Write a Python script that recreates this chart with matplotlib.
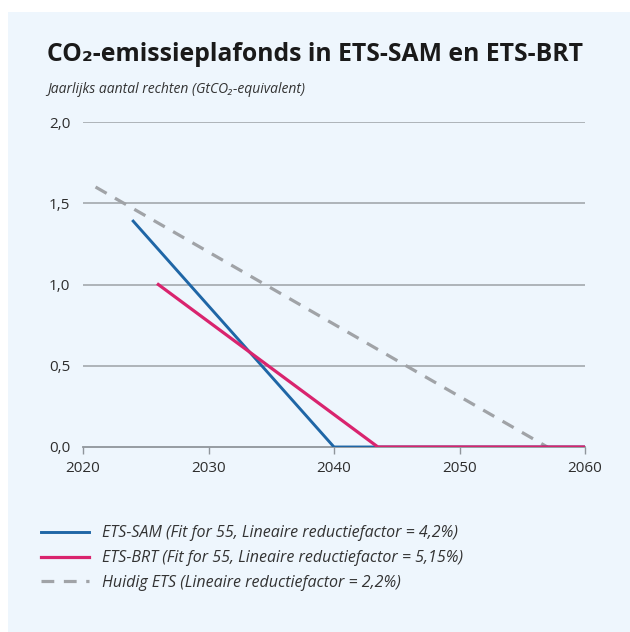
import matplotlib
matplotlib.use("Agg")
import matplotlib.pyplot as plt
from matplotlib.patches import Rectangle

# Data
sam_years = [2024, 2040, 2060]
sam_vals = [1.39, 0.0, 0.0]
brt_years = [2026, 2043.5, 2060]
brt_vals = [1.0, 0.0, 0.0]
huidig_years = [2021, 2057]
huidig_vals = [1.6, 0.0]

x_ticks = [2020, 2030, 2040, 2050, 2060]
y_ticks = [0.0, 0.5, 1.0, 1.5, 2.0]
y_ticklabels = ["0,0", "0,5", "1,0", "1,5", "2,0"]

title = "CO\u2082-emissieplafonds in ETS-SAM en ETS-BRT"
subtitle = "Jaarlijks aantal rechten (GtCO\u2082-equivalent)"
labels = [
    "ETS-SAM (Fit for 55, Lineaire reductiefactor = 4,2%)",
    "ETS-BRT (Fit for 55, Lineaire reductiefactor = 5,15%)",
    "Huidig ETS (Lineaire reductiefactor = 2,2%)",
]

plt.rcParams['font.family'] = ['Open Sans', 'DejaVu Sans']

W, H = 630, 632
fig = plt.figure(figsize=(W / 100, H / 100), dpi=100, facecolor='white')
bg = '#eef6fd'
fig.patches.append(Rectangle((8 / W, 0), 1 - 8 / W, 1 - 12 / H, transform=fig.transFigure,
                             facecolor=bg, edgecolor='none', zorder=-10))

ax = fig.add_axes([83 / W, 1 - 447 / H, (585 - 83) / W, (447 - 122) / H])
ax.set_facecolor('none')
ax.set_zorder(5)

blue = '#1f66a6'
pink = '#d9246e'
grey = '#a0a3a7'
gridc = '#a9aeb3'

ax.plot(huidig_years, huidig_vals, color=grey, lw=2.3, dashes=(4.0, 3.0), zorder=3,
        solid_capstyle='butt', label=labels[2])
ax.plot(sam_years, sam_vals, color=blue, lw=2.1, zorder=4, label=labels[0])
ax.plot(brt_years, brt_vals, color=pink, lw=2.3, zorder=5, label=labels[1])

ax.set_xlim(2020, 2060)
ax.set_ylim(0, 2.0)
ax.set_xticks(x_ticks)
ax.set_yticks(y_ticks)
ax.set_yticklabels(y_ticklabels)
for y in y_ticks[1:]:
    ax.axhline(y, color=gridc, lw=1.3, zorder=1)
for s in ['top', 'right', 'left']:
    ax.spines[s].set_visible(False)
ax.spines['bottom'].set_color('#8f959b')
ax.spines['bottom'].set_linewidth(1.3)
ax.tick_params(axis='x', length=5, width=1, color='#8f959b', labelsize=11,
               labelcolor='#2e2e2e', pad=5)
ax.tick_params(axis='y', length=0, labelsize=11, labelcolor='#2e2e2e', pad=9)

fig.text(47 / W, 1 - 61 / H, title, fontsize=17.8, fontweight='bold', color='#1a1a1a',
         va='baseline', ha='left')
fig.text(47 / W, 1 - 93 / H, subtitle, fontsize=10, style='italic', color='#333333',
         va='baseline', ha='left')

handles, labs = ax.get_legend_handles_labels()
order = [labs.index(l) for l in labels]
leg = fig.legend([handles[i] for i in order], [labs[i] for i in order],
                 loc='upper left', bbox_to_anchor=(35 / W, 1 - 519 / H),
                 frameon=False, fontsize=11.5, handlelength=3.0, handletextpad=0.8,
                 labelspacing=0.55, borderaxespad=0)
for t in leg.get_texts():
    t.set_style('italic')
    t.set_color('#333333')

fig.savefig('out.png', dpi=100, facecolor='white')
